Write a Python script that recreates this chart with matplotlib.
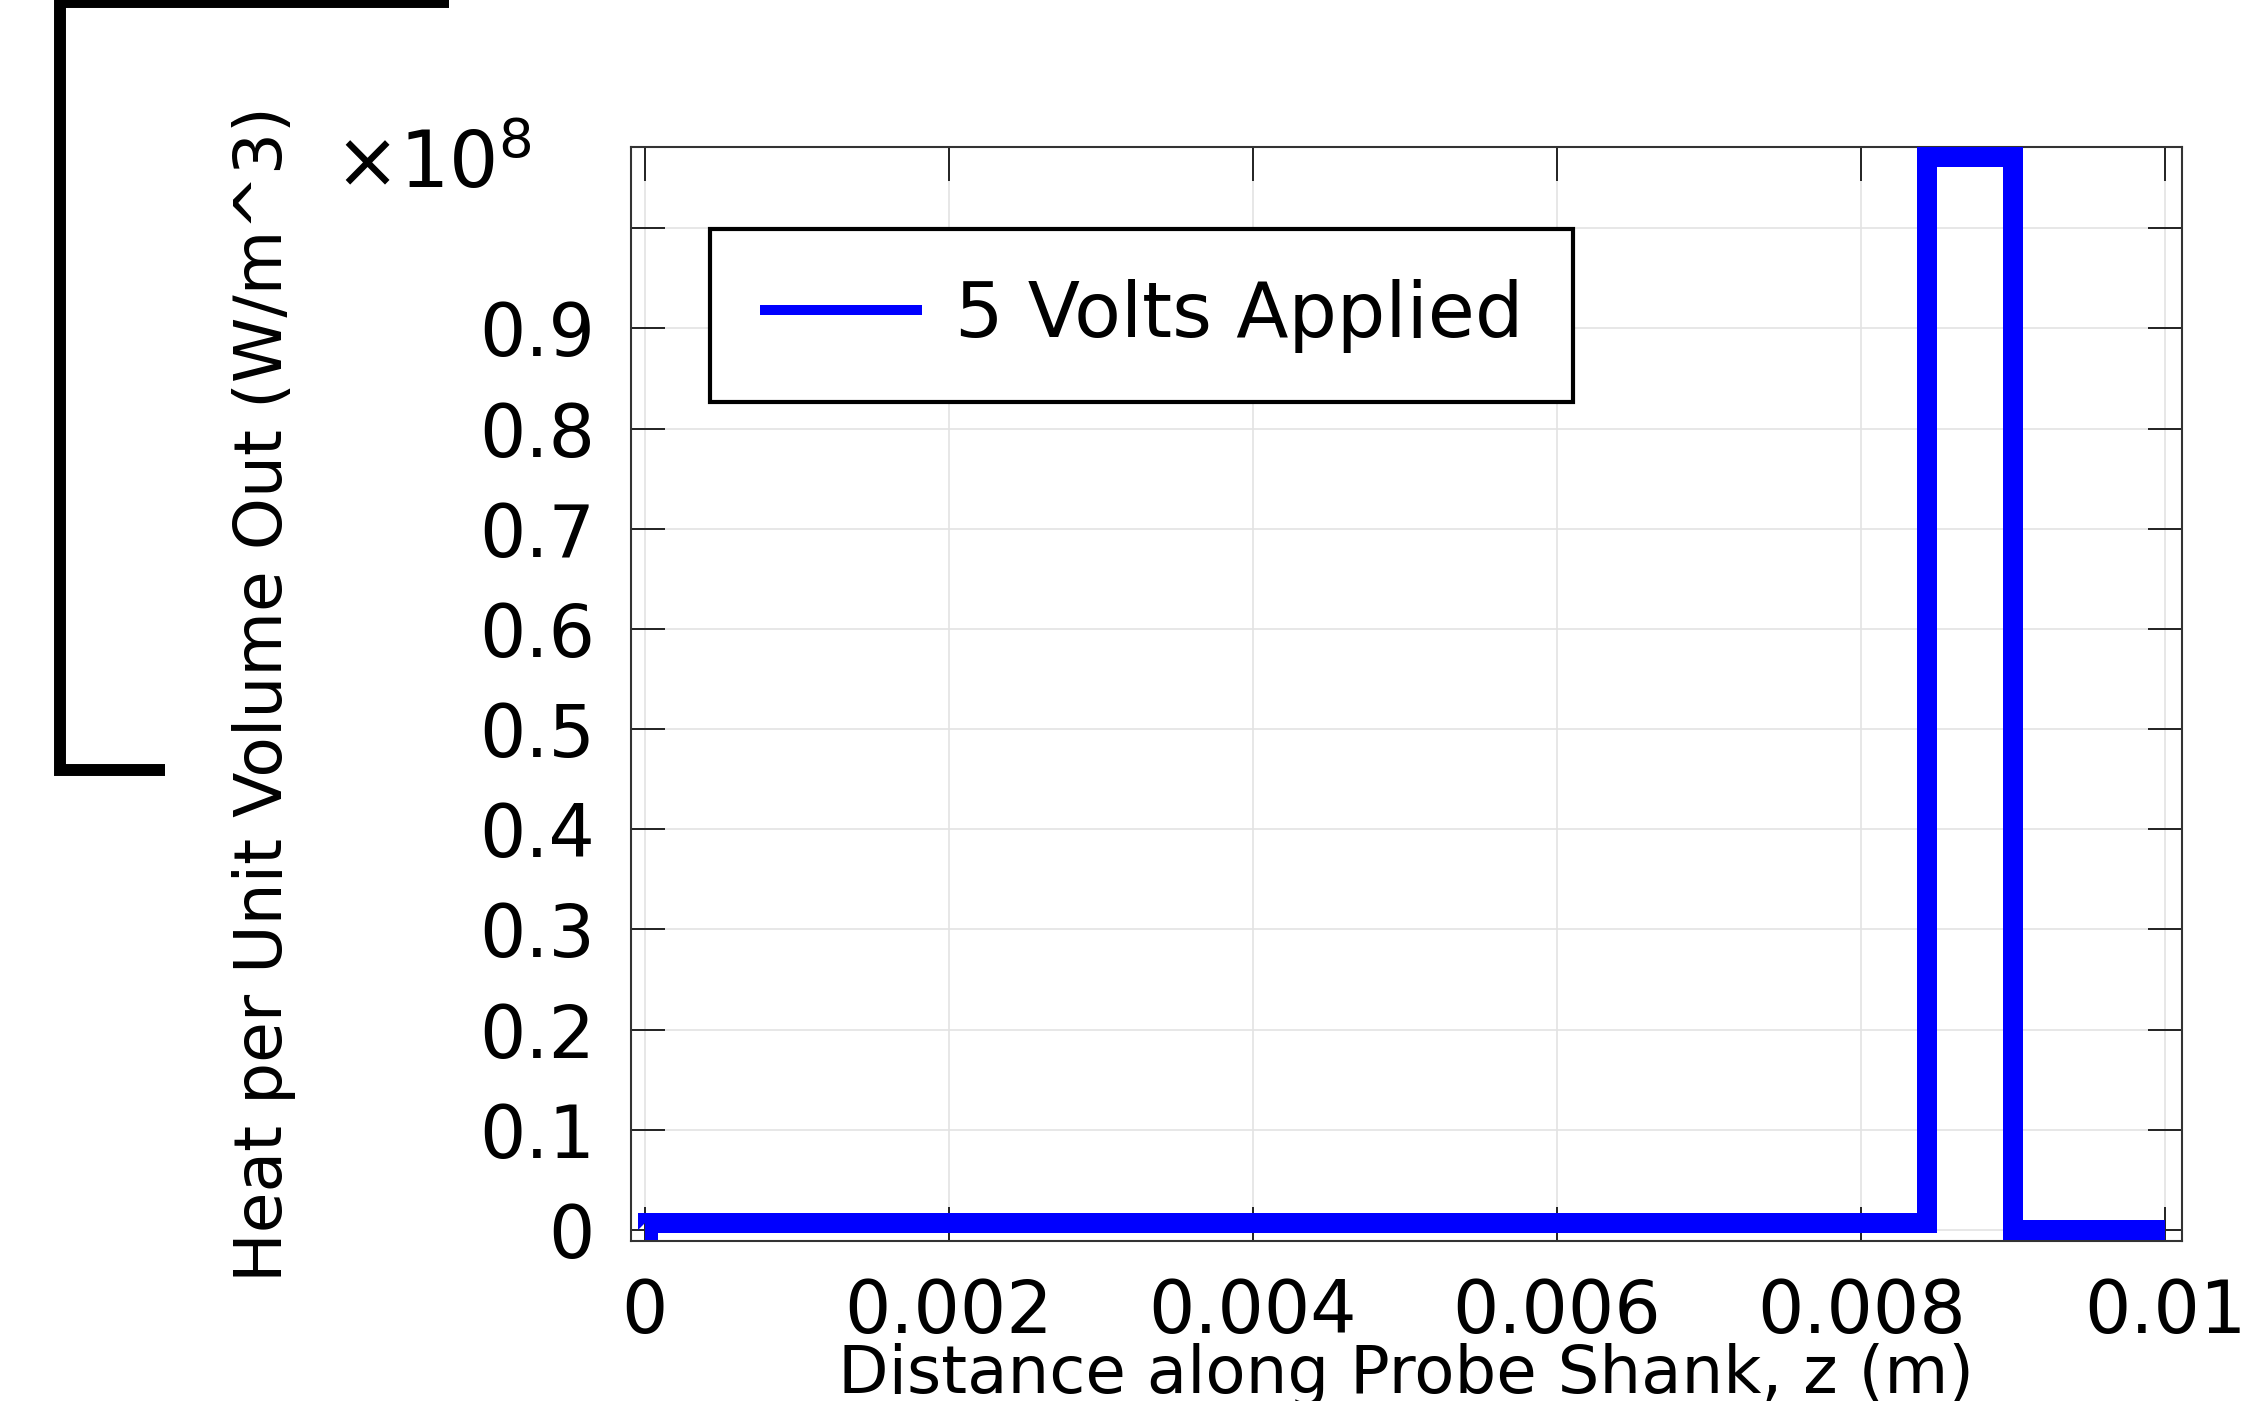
import numpy as np
import matplotlib
matplotlib.use("Agg")
import matplotlib.pyplot as plt
from matplotlib.lines import Line2D
from matplotlib.ticker import FixedLocator, FuncFormatter

# Data (z in m, heat in W/m^3)
z = [0.0, 0.00002, 0.00002, 0.00843, 0.00843, 0.00900, 0.00900, 0.01]
heat = [0.0, 0.0, 0.007e8, 0.007e8, 1.071e8, 1.071e8, 0.0, 0.0]
series_label = "5 Volts Applied"

x_ticks = [0, 0.002, 0.004, 0.006, 0.008, 0.01]
x_tick_labels = ["0", "0.002", "0.004", "0.006", "0.008", "0.01"]
y_ticks = [0, 0.1e8, 0.2e8, 0.3e8, 0.4e8, 0.5e8, 0.6e8, 0.7e8, 0.8e8, 0.9e8, 1.0e8]
y_tick_labels = ["0", "0.1", "0.2", "0.3", "0.4", "0.5", "0.6", "0.7", "0.8", "0.9", ""]

W, H = 2267, 1401
fig = plt.figure(figsize=(W / 100, H / 100), dpi=100)
ax = fig.add_axes([631 / W, 1 - 1241 / H, (2182 - 631) / W, (1241 - 147) / H])

ax.plot(z, heat, color="#0000ff", lw=14.4, solid_joinstyle="miter",
        solid_capstyle="butt", label=series_label, zorder=3)

ax.set_xlim(-0.00009, 0.01011)
ax.set_ylim(-0.011e8, 1.081e8)

ax.xaxis.set_major_locator(FixedLocator(x_ticks))
ax.xaxis.set_major_formatter(FuncFormatter(lambda v, i: x_tick_labels[i] if i is not None and i < len(x_tick_labels) else ""))
ax.yaxis.set_major_locator(FixedLocator(y_ticks))
ax.yaxis.set_major_formatter(FuncFormatter(lambda v, i: y_tick_labels[i] if i is not None and i < len(y_tick_labels) else ""))

ax.tick_params(axis="both", which="major", direction="in", length=24.5, width=1.4,
               colors="#222222", labelcolor="black", labelsize=52.5, pad=26,
               top=True, right=True)
for s in ax.spines.values():
    s.set_linewidth(1.5)
    s.set_color("#333333")

ax.grid(True, color="#e3e3e3", lw=1.2)
ax.set_axisbelow(True)

# the x label runs off the bottom edge, as in the original export
ax.set_xlabel("Distance along Probe Shank, z (m)", fontsize=47.3)
ax.xaxis.set_label_coords(0.5, -0.093)
ax.set_ylabel("Heat per Unit Volume Out (W/m^3)", fontsize=47.7)
ax.yaxis.set_label_coords(-0.216, 0.5)

fig.text(334 / W, 1 - 188 / H, r"$\times10^{8}$", fontsize=56, ha="left", va="baseline")

leg = ax.legend(loc="upper left", bbox_to_anchor=(0.051, 0.925), borderaxespad=0,
                fontsize=55, fancybox=False, framealpha=1, edgecolor="black",
                handlelength=2.13, handletextpad=0.43, borderpad=0.65)
leg.get_frame().set_linewidth(3)
leg.get_lines()[0].set_linewidth(7.2)

# bracket decoration at the left edge
fig.add_artist(Line2D([449 / W, 60 / W, 60 / W, 165 / W],
                      [1 - 2 / H, 1 - 2 / H, 1 - 770 / H, 1 - 770 / H],
                      transform=fig.transFigure, color="black", lw=8.6,
                      solid_joinstyle="miter", solid_capstyle="butt"))

fig.savefig("out.png", dpi=100)
